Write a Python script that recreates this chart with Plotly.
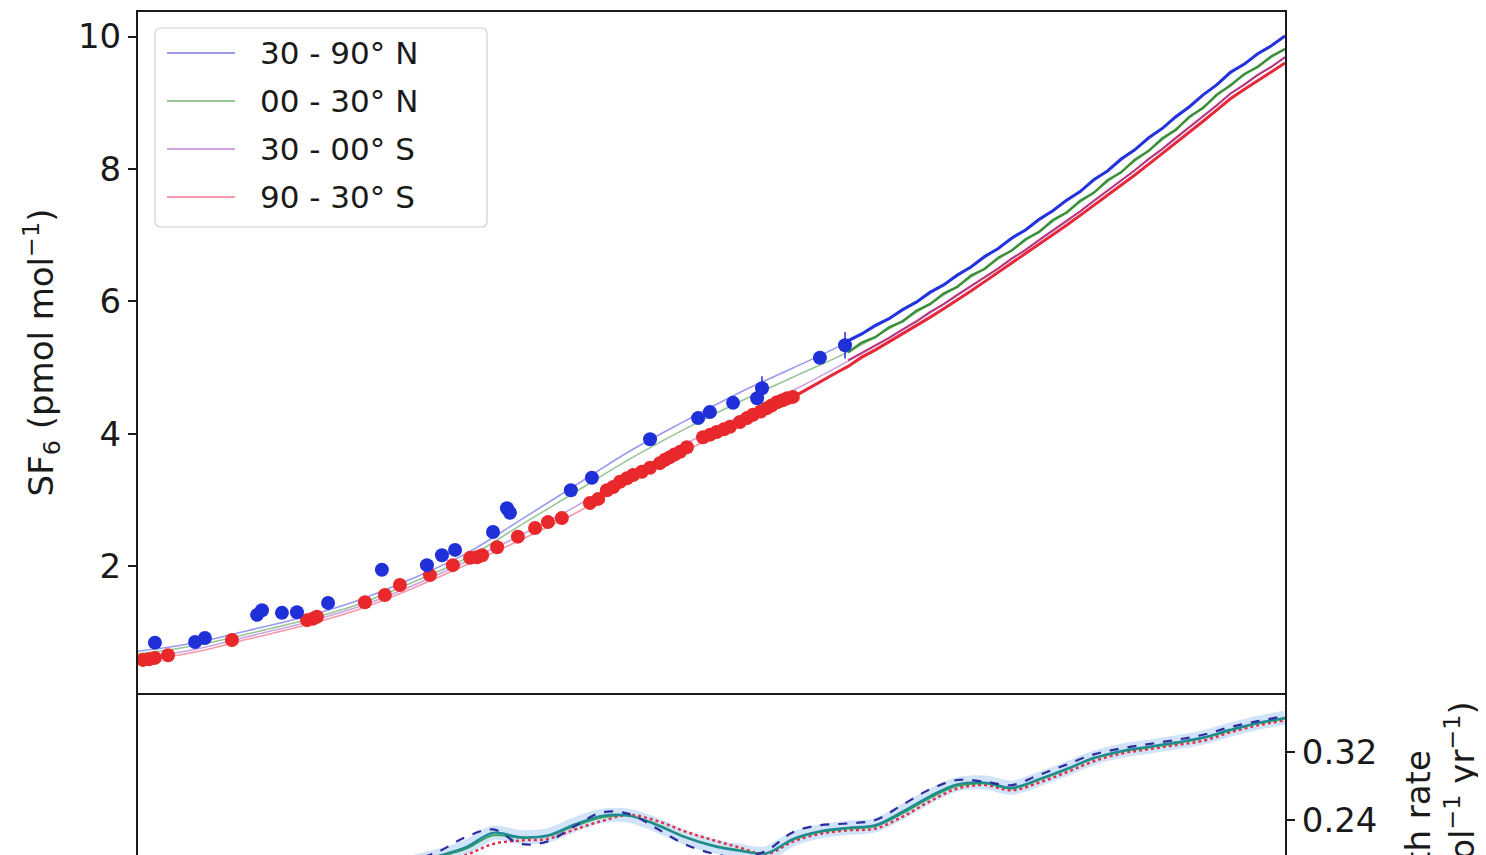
import plotly.graph_objects as go

# ---------------- data ----------------
# model (thin lines), years
model_years = [1978, 1980, 1982, 1984, 1986, 1988, 1990, 1992, 1994, 1996, 1998,
               2000, 2002, 2004, 2006, 2008, 2010, 2012, 2014, 2016, 2018, 2020]
model_30_90N = [0.72, 0.84, 1.03, 1.23, 1.48, 1.81, 2.19, 2.70, 3.22, 3.74, 4.19,
                4.62, 5.00, 5.39, 5.86, 6.38, 6.94, 7.51, 8.13, 8.77, 9.44, 10.00]
model_00_30N = [0.68, 0.80, 0.98, 1.18, 1.42, 1.75, 2.12, 2.62, 3.12, 3.62, 4.07,
                4.48, 4.86, 5.24, 5.71, 6.23, 6.78, 7.35, 7.96, 8.60, 9.27, 9.82]
model_30_00S = [0.62, 0.74, 0.94, 1.14, 1.38, 1.70, 2.07, 2.47, 2.90, 3.38, 3.84,
                4.26, 4.66, 5.10, 5.57, 6.09, 6.64, 7.21, 7.82, 8.46, 9.13, 9.68]
model_90_30S = [0.57, 0.70, 0.90, 1.10, 1.34, 1.66, 2.02, 2.40, 2.80, 3.27, 3.73,
                4.15, 4.55, 5.02, 5.51, 6.02, 6.58, 7.15, 7.75, 8.39, 9.06, 9.60]

# in-situ records (thick lines)
obs_years = [2004.0, 2004.5, 2005.0, 2005.5, 2006.0, 2006.5, 2007.0, 2007.5, 2008.0,
             2008.5, 2009.0, 2009.5, 2010.0, 2010.5, 2011.0, 2011.5, 2012.0, 2012.5,
             2013.0, 2013.5, 2014.0, 2014.5, 2015.0, 2015.5, 2016.0, 2016.5, 2017.0,
             2017.5, 2018.0, 2018.5, 2019.0, 2019.5, 2020.0]
obs_30_90N = [5.41, 5.51, 5.64, 5.74, 5.88, 5.99, 6.14, 6.25, 6.40, 6.52, 6.68, 6.80,
              6.96, 7.08, 7.24, 7.37, 7.53, 7.66, 7.84, 7.97, 8.15, 8.29, 8.47, 8.61,
              8.79, 8.94, 9.12, 9.27, 9.46, 9.58, 9.74, 9.86, 10.01]
obs_00_30N = [5.23, 5.38, 5.46, 5.61, 5.70, 5.86, 5.96, 6.12, 6.22, 6.39, 6.49, 6.66,
              6.77, 6.94, 7.05, 7.23, 7.34, 7.52, 7.64, 7.83, 7.95, 8.14, 8.27, 8.46,
              8.59, 8.79, 8.92, 9.12, 9.26, 9.43, 9.54, 9.70, 9.81]
obs_30_00S = [5.11, 5.22, 5.34, 5.45, 5.58, 5.70, 5.84, 5.96, 6.10, 6.23, 6.37, 6.50,
              6.65, 6.78, 6.93, 7.07, 7.22, 7.36, 7.52, 7.67, 7.83, 7.98, 8.15, 8.30,
              8.47, 8.63, 8.80, 8.96, 9.14, 9.27, 9.42, 9.54, 9.69]
obs_sh_years = [2002.0, 2002.5, 2003.0, 2003.5] + obs_years
obs_90_30S = [4.56, 4.68, 4.80, 4.91,
              5.02, 5.16, 5.27, 5.39, 5.51, 5.64, 5.76, 5.89, 6.02, 6.16, 6.30, 6.44,
              6.58, 6.72, 6.86, 7.01, 7.15, 7.30, 7.45, 7.60, 7.75, 7.91, 8.07, 8.23,
              8.39, 8.56, 8.72, 8.89, 9.06, 9.20, 9.33, 9.47, 9.60]

# archive samples (points)
nh_years = [1978.62, 1980.09, 1980.45, 1982.36, 1982.54, 1983.27, 1983.82, 1984.96,
            1986.93, 1988.58, 1989.13, 1989.61, 1991.00, 1991.51, 1991.62, 1993.85,
            1994.62, 1996.75, 1998.51, 1998.94, 1999.79, 2000.67, 2000.85, 2002.97,
            2003.89]
nh_values = [0.85, 0.86, 0.92, 1.27, 1.34, 1.30, 1.31, 1.45, 1.95, 2.02, 2.17, 2.25,
             2.52, 2.88, 2.81, 3.15, 3.34, 3.92, 4.24, 4.33, 4.47, 4.54, 4.69, 5.15,
             5.34]
nh_errors = [0.05, 0.05, 0.05, 0.05, 0.05, 0.05, 0.05, 0.05, 0.05, 0.05, 0.05, 0.05,
             0.05, 0.05, 0.05, 0.05, 0.05, 0.05, 0.05, 0.05, 0.05, 0.05, 0.18, 0.05,
             0.2]
sh_years = [1978.18, 1978.40, 1978.62, 1979.10, 1981.44, 1984.19, 1984.40, 1984.55,
            1986.31, 1987.04, 1987.59, 1988.69, 1989.53, 1990.16, 1990.41, 1990.60,
            1991.15, 1991.91, 1992.54, 1993.01, 1993.52, 1994.55, 1994.85, 1995.17,
            1995.40, 1995.65, 1995.90, 1996.13, 1996.45, 1996.75, 1997.11, 1997.30,
            1997.48, 1997.65, 1997.85, 1998.10, 1998.69, 1998.95, 1999.19, 1999.45,
            1999.68, 2000.04, 2000.30, 2000.52, 2000.80, 2001.03, 2001.20, 2001.40,
            2001.60, 2001.77, 2001.98]
sh_values = [0.59, 0.60, 0.62, 0.66, 0.89, 1.19, 1.21, 1.24, 1.46, 1.57, 1.72, 1.87,
             2.02, 2.13, 2.14, 2.17, 2.29, 2.45, 2.58, 2.67, 2.73, 2.96, 3.02, 3.15,
             3.20, 3.28, 3.33, 3.38, 3.43, 3.49, 3.56, 3.61, 3.65, 3.69, 3.73, 3.80,
             3.95, 3.99, 4.03, 4.07, 4.11, 4.18, 4.24, 4.29, 4.34, 4.39, 4.43, 4.48,
             4.51, 4.54, 4.56]

# growth rates (lower panel)
gr_years = list(range(1984, 2021))
gr_central = [0.160, 0.170, 0.175, 0.180, 0.190, 0.198, 0.208, 0.225, 0.220, 0.222,
              0.235, 0.245, 0.245, 0.234, 0.220, 0.210, 0.204, 0.201, 0.218, 0.227,
              0.231, 0.234, 0.250, 0.268, 0.282, 0.284, 0.278, 0.288, 0.300, 0.313,
              0.321, 0.326, 0.331, 0.337, 0.346, 0.354, 0.360]
gr_green = [0.158, 0.168, 0.174, 0.179, 0.189, 0.197, 0.206, 0.222, 0.219, 0.221,
            0.233, 0.243, 0.245, 0.235, 0.221, 0.211, 0.205, 0.201, 0.217, 0.226,
            0.230, 0.233, 0.248, 0.266, 0.280, 0.283, 0.277, 0.287, 0.299, 0.312,
            0.320, 0.325, 0.330, 0.336, 0.345, 0.353, 0.359]
gr_dashed = [0.160, 0.170, 0.176, 0.182, 0.192, 0.203, 0.220, 0.229, 0.212, 0.215,
             0.233, 0.249, 0.247, 0.230, 0.212, 0.201, 0.196, 0.204, 0.226, 0.234,
             0.236, 0.240, 0.258, 0.276, 0.287, 0.285, 0.281, 0.293, 0.305, 0.317,
             0.324, 0.329, 0.334, 0.340, 0.349, 0.356, 0.362]
gr_dotted = [0.150, 0.160, 0.170, 0.175, 0.185, 0.193, 0.199, 0.212, 0.216, 0.218,
             0.229, 0.239, 0.246, 0.239, 0.227, 0.217, 0.208, 0.200, 0.215, 0.224,
             0.228, 0.230, 0.244, 0.262, 0.277, 0.281, 0.275, 0.284, 0.296, 0.309,
             0.318, 0.323, 0.328, 0.333, 0.343, 0.351, 0.357]

legend_labels = ["30 - 90° N", "00 - 30° N", "30 - 00° S", "90 - 30° S"]

# ---------------- styling ----------------
FONT = "DejaVu Sans"
INK = "#1a1a1a"
W, H = 1486, 855
OFF = 8                      # page offset of the plot div (body margin)
L, R, T, B = 138, 1285, 12, 855   # plot area in page pixels
thin_cols = ["rgba(70,70,225,0.55)", "rgba(50,140,50,0.5)",
             "rgba(160,70,190,0.5)", "rgba(235,50,80,0.5)"]
thick_cols = ["#2233dd", "#3a8f3a", "#b8367e", "#e6283a"]


def px(x, y):
    return (x - L) / (R - L), (B - y) / (B - T)


split = (B - 693) / (B - T)

fig = go.Figure()

models = [model_30_90N, model_00_30N, model_30_00S, model_90_30S]
for vals, col in zip(models, thin_cols):
    fig.add_trace(go.Scatter(x=model_years, y=vals, mode="lines", line_shape="spline",
                             line=dict(color=col, width=1.6), showlegend=False,
                             xaxis="x", yaxis="y"))

fig.add_trace(go.Scatter(x=obs_sh_years, y=obs_90_30S, mode="lines",
                         line=dict(color=thick_cols[3], width=3), showlegend=False))
fig.add_trace(go.Scatter(x=obs_years, y=obs_30_00S, mode="lines",
                         line=dict(color=thick_cols[2], width=2), showlegend=False))
fig.add_trace(go.Scatter(x=obs_years, y=obs_00_30N, mode="lines",
                         line=dict(color=thick_cols[1], width=2.5), showlegend=False))
fig.add_trace(go.Scatter(x=obs_years, y=obs_30_90N, mode="lines",
                         line=dict(color=thick_cols[0], width=3), showlegend=False))

fig.add_trace(go.Scatter(x=sh_years, y=sh_values, mode="markers",
                         marker=dict(color="#e8282a", size=14, line=dict(width=0)),
                         showlegend=False))
fig.add_trace(go.Scatter(x=nh_years, y=nh_values, mode="markers",
                         marker=dict(color="#1f30d8", size=14, line=dict(width=0)),
                         error_y=dict(type="data", array=nh_errors, color="#1f30d8",
                                      thickness=1.5, width=0),
                         showlegend=False))

# lower panel
fig.add_trace(go.Scatter(x=gr_years, y=gr_central, mode="lines", line_shape="spline",
                         line=dict(color="rgba(120,175,235,0.35)", width=14),
                         showlegend=False, xaxis="x2", yaxis="y2"))
fig.add_trace(go.Scatter(x=gr_years, y=gr_dotted, mode="lines", line_shape="spline",
                         line=dict(color="#e0304a", width=2.5, dash="dot"),
                         showlegend=False, xaxis="x2", yaxis="y2"))
fig.add_trace(go.Scatter(x=gr_years, y=gr_green, mode="lines", line_shape="spline",
                         line=dict(color="#2e9e55", width=1.8),
                         showlegend=False, xaxis="x2", yaxis="y2"))
fig.add_trace(go.Scatter(x=gr_years, y=gr_central, mode="lines", line_shape="spline",
                         line=dict(color="#1f8a95", width=2.2),
                         showlegend=False, xaxis="x2", yaxis="y2"))
fig.add_trace(go.Scatter(x=gr_years, y=gr_dashed, mode="lines", line_shape="spline",
                         line=dict(color="#2d2d9e", width=2.2, dash="dash"),
                         showlegend=False, xaxis="x2", yaxis="y2"))

axis_common = dict(showgrid=False, zeroline=False, linecolor=INK, linewidth=2,
                   tickcolor=INK, tickfont=dict(family=FONT, size=34, color=INK))

fig.update_layout(
    width=W, height=H,
    margin=dict(l=L - OFF, r=W - (R - OFF), t=T - OFF, b=H - (B - OFF),
                autoexpand=False),
    paper_bgcolor="white", plot_bgcolor="white",
    font=dict(family=FONT, color=INK),
    xaxis=dict(domain=[0, 1], range=[1978, 2020], anchor="y", showline=True,
               mirror=True, ticks="", showticklabels=False, **axis_common),
    yaxis=dict(domain=[split, 1], range=[0.09, 10.37], anchor="x", showline=True,
               mirror=True, ticks="outside", ticklen=8, tickwidth=1.5,
               tickvals=[2, 4, 6, 8, 10],
               title=dict(text="SF<sub>6</sub> (pmol mol<sup>−1</sup>)",
                          font=dict(family=FONT, size=34, color=INK), standoff=14),
               **axis_common),
    xaxis2=dict(domain=[0, 1], range=[1978, 2020], anchor="y2", showline=False,
                ticks="", showticklabels=False, matches="x", **axis_common),
    yaxis2=dict(domain=[0, split], range=[0.199, 0.389], anchor="x2", side="right",
                showline=True, mirror=True, ticks="outside", ticklen=8, tickwidth=1.5,
                tickvals=[0.24, 0.32], tickformat=".2f",
                **axis_common),
)

# manual legend
shapes = []
bx0, by0 = px(155, 28)
bx1, by1 = px(487, 227)
r = 6
ax_, ay_ = px(155 + r, 28 + r)
rx = ax_ - bx0
ry = by0 - ay_
path = (f"M{bx0+rx},{by0} L{bx1-rx},{by0} Q{bx1},{by0} {bx1},{by0-ry} "
        f"L{bx1},{by1+ry} Q{bx1},{by1} {bx1-rx},{by1} L{bx0+rx},{by1} "
        f"Q{bx0},{by1} {bx0},{by1+ry} L{bx0},{by0-ry} Q{bx0},{by0} {bx0+rx},{by0} Z")
shapes.append(dict(type="path", path=path, xref="paper", yref="paper",
                   fillcolor="rgba(255,255,255,0.85)",
                   line=dict(color="#d0d0d0", width=1.2), layer="above"))
annotations = []
for i, (lab, col) in enumerate(zip(legend_labels, thin_cols)):
    yy = 53 + i * 48
    x0, y0 = px(167, yy)
    x1, _ = px(235, yy)
    shapes.append(dict(type="line", x0=x0, x1=x1, y0=y0, y1=y0, xref="paper",
                       yref="paper", line=dict(color=col, width=2), layer="above"))
    tx, ty = px(258, yy)
    annotations.append(dict(text=lab, x=tx, y=ty, xref="paper", yref="paper",
                            xanchor="left", yanchor="middle", showarrow=False,
                            font=dict(family=FONT, size=31, color=INK)))

gx, gy = px(1440, 852)
annotations.append(dict(text="Growth rate<br>(pmol mol<sup>−1</sup> yr<sup>−1</sup>)",
                        x=gx, y=gy, xref="paper", yref="paper", textangle=-90,
                        xanchor="center", yanchor="middle", align="center",
                        showarrow=False, font=dict(family=FONT, size=34, color=INK)))

fig.update_layout(shapes=shapes, annotations=annotations)

fig.write_html("out.html")
